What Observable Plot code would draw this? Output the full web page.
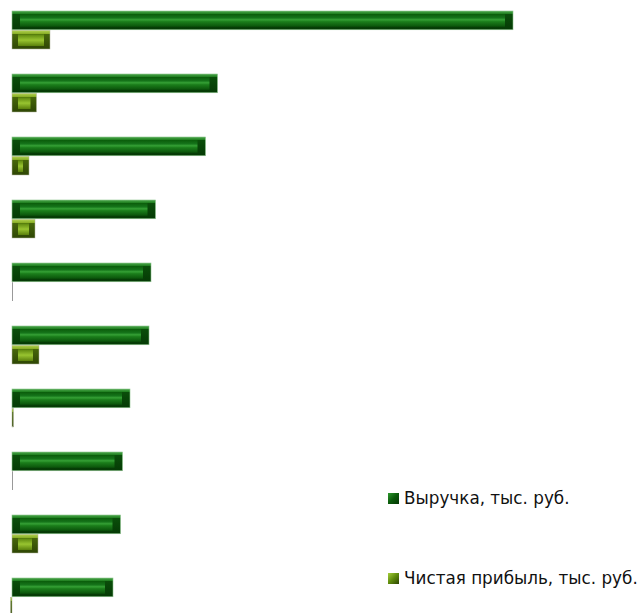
<!DOCTYPE html>
<html>
<head>
<meta charset="utf-8">
<script src="https://cdn.jsdelivr.net/npm/d3@7"></script>
<script src="https://cdn.jsdelivr.net/npm/@observablehq/plot@0.6"></script>
<style>
  html, body { margin: 0; padding: 0; background: #fff; overflow: hidden; }
  #wrap { position: relative; width: 642px; height: 613px; }
  .leg { position: absolute; left: 388px; display: flex; align-items: center;
         font-family: "DejaVu Sans", sans-serif; font-size: 16.8px; color: #111; white-space: nowrap; }
  .sw { width: 11px; height: 11px; margin-right: 5px; box-sizing: border-box; }
</style>
</head>
<body>
<div id="wrap"></div>
<script>
// ---- data ----
const categories = ["1", "2", "3", "4", "5", "6", "7", "8", "9", "10"];
const revenue = [501, 205.5, 193.5, 143.5, 139, 137, 118, 110.5, 108.5, 101]; // Выручка, тыс. руб.
const profit  = [38, 24.5, 17, 23, 0, 27, 1.5, 0, 26, -1.5];                  // Чистая прибыль, тыс. руб.
const seriesNames = ["Выручка, тыс. руб.", "Чистая прибыль, тыс. руб."];

const data = categories.map((c, i) => ({cat: c, revenue: revenue[i], profit: profit[i]}));

const half = 19.25;
const chart = Plot.plot({
  width: 642,
  height: 613,
  marginTop: 0, marginBottom: 0, marginLeft: 0, marginRight: 0,
  x: {domain: [0, 501], range: [12, 513], axis: null},
  y: {domain: categories, range: [11, 617.4], paddingInner: 0.39, paddingOuter: 0, axis: null},
  marks: [
    // revenue: outer bevel
    Plot.barX(data, {y: "cat", x: "revenue", insetBottom: half, fill: "url(#revOuter)", stroke: "#8cc48c", strokeWidth: 0.6}),
    // revenue: inner face
    Plot.barX(data, {y: "cat", x: "revenue", insetBottom: half + 3, insetTop: 3, insetLeft: 8, insetRight: 8, fill: "url(#revInner)"}),
    // profit: outer bevel
    Plot.barX(data, {y: "cat", x: "profit", insetTop: half, fill: "url(#proOuter)", stroke: "#b4b8a0", strokeWidth: 0.5}),
    // profit: inner face (only where wide enough)
    Plot.barX(data, {filter: d => Math.abs(d.profit) > 12, y: "cat", x: "profit", insetTop: half + 4, insetBottom: 3, insetLeft: 6, insetRight: 6, fill: "url(#proInner)"}),
    // zero-valued profit bars leave only a thin line
    Plot.tickX(data, {filter: d => d.profit === 0, x: "profit", y: "cat", insetTop: half, stroke: "#999999", strokeWidth: 1})
  ]
});

const svg = d3.select(chart);
const defs = svg.insert("defs", ":first-child");
function grad(id, stops) {
  const g = defs.append("linearGradient").attr("id", id).attr("x1", 0).attr("y1", 0).attr("x2", 0).attr("y2", 1);
  stops.forEach(([o, c]) => g.append("stop").attr("offset", o).attr("stop-color", c));
}
grad("revOuter", [[0, "#4ea84e"], [0.15, "#1f7f1f"], [0.17, "#0a4e0a"], [1, "#053a05"]]);
grad("revInner", [[0, "#0a5c0a"], [0.3, "#15741a"], [0.45, "#35a035"], [0.6, "#1b7e1b"], [1, "#0a520a"]]);
grad("proOuter", [[0, "#b4d454"], [0.2, "#86ac22"], [0.22, "#46660a"], [1, "#2e4604"]]);
grad("proInner", [[0, "#5a840c"], [0.5, "#98c430"], [1, "#5a800c"]]);

const wrap = document.getElementById("wrap");
wrap.appendChild(chart);

const legColors = [
  "linear-gradient(135deg, #2e9a2e 0%, #0b5a0b 50%, #043604 100%)",
  "linear-gradient(135deg, #a6d03c 0%, #5e8a0c 50%, #2c4402 100%)"
];
const legTops = [488, 568];
seriesNames.forEach((name, i) => {
  const row = document.createElement("div");
  row.className = "leg";
  row.style.top = legTops[i] + "px";
  const sw = document.createElement("div");
  sw.className = "sw";
  sw.style.background = legColors[i];
  const t = document.createElement("span");
  t.textContent = name;
  row.appendChild(sw);
  row.appendChild(t);
  wrap.appendChild(row);
});
</script>
</body>
</html>
